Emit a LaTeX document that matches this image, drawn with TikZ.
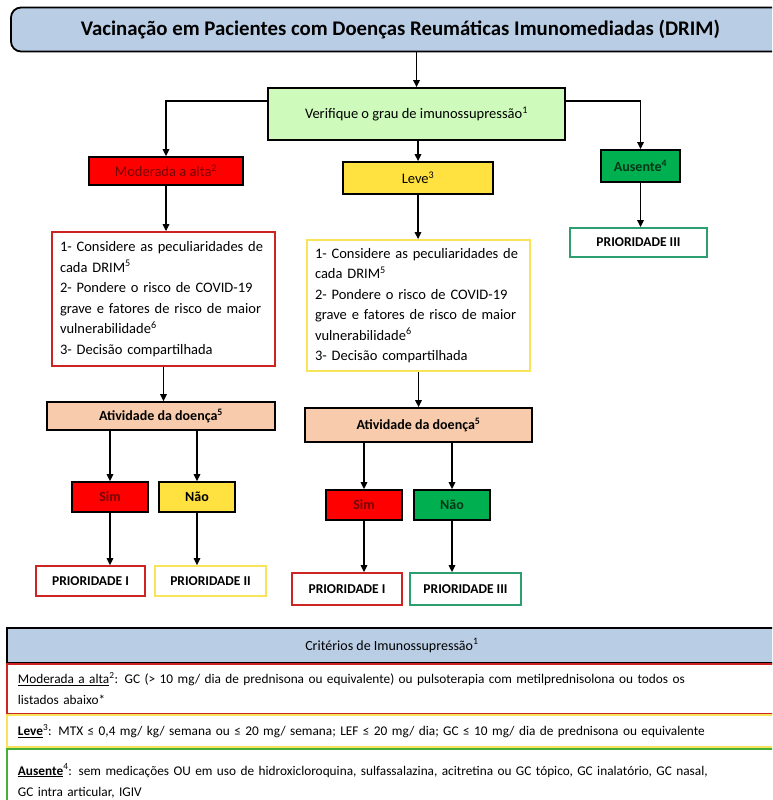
\documentclass[tikz,border=0pt]{standalone}
\usepackage{fontspec}
\setmainfont{Carlito}
\usetikzlibrary{arrows.meta,positioning}

\definecolor{azultitulo}{RGB}{185,205,229}
\definecolor{verdeclaro}{RGB}{206,250,188}
\definecolor{vermelho}{RGB}{255,0,0}
\definecolor{vermelhoescuro}{RGB}{120,5,5}
\definecolor{amarelo}{RGB}{255,226,64}
\definecolor{verde}{RGB}{0,176,80}
\definecolor{verdeescuro}{RGB}{0,55,22}
\definecolor{pessego}{RGB}{248,203,173}
\definecolor{bordavermelha}{RGB}{205,35,35}
\definecolor{bordaamarela}{RGB}{248,228,90}
\definecolor{bordaverde}{RGB}{45,158,112}
\definecolor{linhaverde}{RGB}{70,175,60}

\tikzset{
	seta/.style={-{Triangle[length=7pt,width=6.5pt]}, line width=1.4pt},
	caixa/.style={draw, line width=1.8pt, inner sep=2pt, font=\fontsize{14.5}{16}\selectfont},
	caixab/.style={caixa, font=\bfseries\fontsize{14}{16}\selectfont},
	lista/.style={draw, line width=1.8pt, fill=white, text width=207, inner xsep=8, align=left, font=\fontsize{14.5}{20.5}\selectfont},
	prioridade/.style={draw, line width=1.8pt, fill=white, minimum height=30, font=\bfseries\fontsize{13.5}{15}\selectfont},
	linhatab/.style={draw, line width=1.8pt, anchor=north west, text width=762, inner xsep=11, inner ysep=0, align=left, font=\fontsize{13.3}{21}\selectfont}
}

\begin{document}
\begin{tikzpicture}[x=1pt, y=-1pt]
	\clip (0,0) rectangle (772,800);
	\fill[white] (0,0) rectangle (772,800);

	\node[draw, line width=1.8pt, rounded corners=10pt, fill=azultitulo, minimum width=779, minimum height=44, font=\bfseries\fontsize{20.8}{24}\selectfont] (titulo) at (400.5,29.5) {Vacinação em Pacientes com Doenças Reumáticas Imunomediadas (DRIM)};

	\node[caixa, fill=verdeclaro, minimum width=297, minimum height=52] (verifique) at (416.5,114) {Verifique o grau de imunossupressão\textsuperscript{1}};

	\node[caixa, fill=vermelho, text=vermelhoescuro, minimum width=154, minimum height=28] (moderada) at (166,171) {Moderada a alta\textsuperscript{2}};
	\node[caixa, fill=amarelo, minimum width=150, minimum height=32] (leve) at (418,178) {Leve\textsuperscript{3}};
	\node[caixab, fill=verde, text=verdeescuro, minimum width=79, minimum height=32] (ausente) at (640.5,166) {Ausente\textsuperscript{4}};

	\node[lista, draw=bordavermelha, minimum height=134] (txtmod) at (163.5,299) {1- Considere as peculiaridades de\\cada DRIM\textsuperscript{5}\\2- Pondere o risco de COVID-19\\grave e fatores de risco de maior\\vulnerabilidade\textsuperscript{6}\\3- Decisão compartilhada};
	\node[lista, draw=bordaamarela, minimum height=131] (txtleve) at (418.5,305.5) {1- Considere as peculiaridades de\\cada DRIM\textsuperscript{5}\\2- Pondere o risco de COVID-19\\grave e fatores de risco de maior\\vulnerabilidade\textsuperscript{6}\\3- Decisão compartilhada};
	\node[prioridade, draw=bordaverde, minimum width=137, minimum height=29] (p3aus) at (638.5,242.5) {PRIORIDADE III};

	\node[caixab, fill=pessego, minimum width=228, minimum height=28] (ativmod) at (161,416) {Atividade da doença\textsuperscript{5}};
	\node[caixab, fill=pessego, minimum width=227, minimum height=34] (ativleve) at (418.5,425) {Atividade da doença\textsuperscript{5}};

	\node[caixab, fill=vermelho, text=vermelhoescuro, minimum width=76, minimum height=30] (simmod) at (110,497) {Sim};
	\node[caixab, fill=amarelo, minimum width=76, minimum height=30] (naomod) at (197,497) {Não};
	\node[caixab, fill=vermelho, text=vermelhoescuro, minimum width=76, minimum height=30] (simleve) at (364,505) {Sim};
	\node[caixab, fill=verde, text=verdeescuro, minimum width=76, minimum height=30] (naoleve) at (452,505) {Não};

	\node[prioridade, draw=bordavermelha, minimum width=109] (p1mod) at (90.5,581) {PRIORIDADE I};
	\node[prioridade, draw=bordaamarela, minimum width=111] (p2mod) at (210.5,581) {PRIORIDADE II};
	\node[prioridade, draw=bordavermelha, minimum width=110, minimum height=32] (p1leve) at (347,589) {PRIORIDADE I};
	\node[prioridade, draw=bordaverde, minimum width=111, minimum height=32] (p3leve) at (465.5,589) {PRIORIDADE III};

	\draw[seta] (titulo.south -| verifique.north) -- (verifique.north);
	\draw[seta] (verifique.175) -| (moderada.north);
	\draw[seta] (verifique.5) -| (ausente.north);
	\draw[seta] (leve.north |- verifique.south) -- (leve.north);
	\draw[seta] (moderada.south) -- (moderada.south |- txtmod.north);
	\draw[seta] (leve.south) -- (leve.south |- txtleve.north);
	\draw[seta] (txtmod.south) -- (txtmod.south |- ativmod.north);
	\draw[seta] (txtleve.south) -- (txtleve.south |- ativleve.north);
	\foreach \a/\b in {ativmod/simmod, ativmod/naomod, ativleve/simleve, ativleve/naoleve}
		\draw[seta] (\b.north |- \a.south) -- (\b.north);
	\foreach \a/\b in {simmod/p1mod, naomod/p2mod, simleve/p1leve, naoleve/p3leve, ausente/p3aus}
		\draw[seta] (\a.south) -- (\a.south |- \b.north);

	\node[draw, line width=1.8pt, fill=azultitulo, anchor=north west, minimum width=784, minimum height=35, font=\fontsize{14}{16}\selectfont] (criterios) at (6,627) {\hspace*{-14pt}Critérios de Imunossupressão\textsuperscript{1}};
	\node[linhatab, draw=bordavermelha, minimum height=50] (linhamod) at (6,663) {\underline{Moderada a alta}\textsuperscript{2}: GC (> 10 mg/ dia de prednisona ou equivalente) ou pulsoterapia com metilprednisolona ou todos os\\listados abaixo*};
	\node[linhatab, draw=bordaamarela, minimum height=32] (linhaleve) at (6,714) {\textbf{\underline{Leve}}\textsuperscript{3}: MTX ≤ 0,4 mg/ kg/ semana ou ≤ 20 mg/ semana; LEF ≤ 20 mg/ dia; GC ≤ 10 mg/ dia de prednisona ou equivalente};
	\node[linhatab, draw=linhaverde, minimum height=64] (linhaaus) at (6,748) {\textbf{\underline{Ausente}}\textsuperscript{4}: sem medicações OU em uso de hidroxicloroquina, sulfassalazina, acitretina ou GC tópico, GC inalatório, GC nasal,\\GC intra articular, IGIV};
\end{tikzpicture}
\end{document}
